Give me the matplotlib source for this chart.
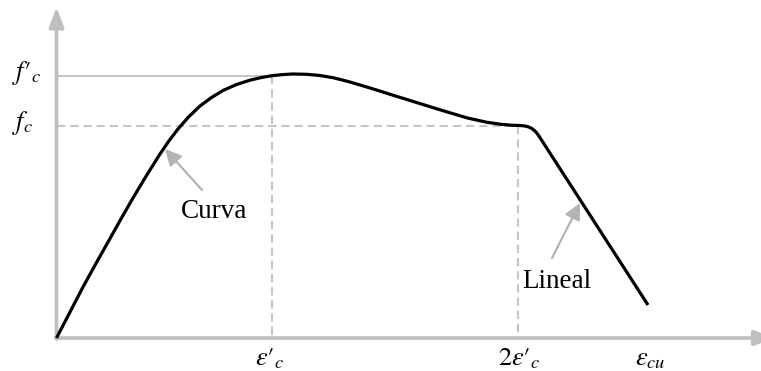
import matplotlib
matplotlib.use("Agg")
import matplotlib.pyplot as plt

plt.rcParams["mathtext.fontset"] = "stix"
plt.rcParams["lines.scale_dashes"] = False

# Schematic stress-strain curve for confined concrete (arbitrary units)
strain = [0, 13, 26.5, 40, 53.5, 65, 76.5, 90, 103.5, 112, 121.5, 132,
          143.5, 155, 166.5, 180, 193.5, 205, 215.5, 226, 236.5, 250,
          263.5, 277, 290.5, 305, 320, 336.5, 360, 386.5, 411, 430, 445,
          455, 463.5, 468, 472, 475.5, 479, 482, 485, 591.5]
stress = [0, 25, 51, 75.5, 99.5, 120, 140, 162.5, 184, 196.5, 209, 221,
          232, 240.5, 247.5, 253.5, 257.8, 260.5, 262.3, 263.4, 264, 263.7,
          262.5, 260.2, 256.8, 252.6, 248, 242.8, 235.5, 227.3, 220, 215.8, 213.6,
          212.8, 212.5, 212.1, 211.1, 209.4, 206.5, 202.6, 198, 33]

# Reference levels on both axes
eps_c = 215.2       # strain at peak stress
eps_2c = 461.2      # end of parabolic branch
eps_cu = 593.5      # ultimate strain
fc_peak = 262.3     # f'c
fc_res = 212.0      # fc

x_labels = [r"$\varepsilon\prime_c$", r"$2\varepsilon\prime_c$", r"$\varepsilon_{cu}$"]
x_label_pos = [eps_c - 1.7, eps_2c + 1.8, eps_cu + 0.5]
y_labels = [r"$f\prime_c$", r"$f_c$"]
y_label_pos = [fc_peak, fc_res]

GRAY_AXIS = "#bfbfbf"
GRAY_GUIDE = "#c6c6c6"
GRAY_ARROW = "#b3b3b3"

fig = plt.figure(figsize=(7.61, 3.71), dpi=100)
ax = fig.add_axes([0, 0, 1, 1])
ax.set_xlim(-56.5, 704.5)
ax.set_ylim(-33, 338)
ax.axis("off")

# Guide lines
ax.plot([0, eps_c], [fc_peak, fc_peak], color=GRAY_GUIDE, lw=1.5, solid_capstyle="butt")
ax.plot([eps_c, eps_c], [fc_peak, 0], color=GRAY_GUIDE, lw=1.5, linestyle=(0, (6, 3.5)))
ax.plot([0, eps_2c], [fc_res, fc_res], color=GRAY_GUIDE, lw=1.5, linestyle=(0, (6, 3.5)))
ax.plot([eps_2c, eps_2c], [fc_res, 0], color=GRAY_GUIDE, lw=1.5, linestyle=(0, (6, 3.5)))

# Axes with arrowheads
axis_style = "-|>,head_length=0.8,head_width=0.3"
ax.annotate("", xy=(0, 331), xytext=(0, -1.2),
            arrowprops=dict(arrowstyle=axis_style, color=GRAY_AXIS, lw=2.6,
                            mutation_scale=15, shrinkA=0, shrinkB=0))
ax.annotate("", xy=(718, 0), xytext=(-1.2, 0), annotation_clip=False,
            arrowprops=dict(arrowstyle=axis_style, color=GRAY_AXIS, lw=2.6,
                            mutation_scale=15, shrinkA=0, shrinkB=0))

# Stress-strain curve
ax.plot(strain, stress, color="black", lw=2.3, solid_joinstyle="round",
        solid_capstyle="butt", zorder=5)

# Axis labels
for lab, xv in zip(x_labels, x_label_pos):
    ax.text(xv, -20, lab, fontsize=19, ha="center", va="center")
for lab, yv in zip(y_labels, y_label_pos):
    ax.text(-44.5, yv + 3, lab, fontsize=19, ha="left", va="center")

# Branch annotations
arrow_kw = dict(arrowstyle="-|>,head_length=0.7,head_width=0.35", color=GRAY_ARROW,
                lw=1.6, mutation_scale=14, shrinkA=0, shrinkB=0)
ax.annotate("", xy=(108.5, 189), xytext=(145.5, 148), arrowprops=arrow_kw)
ax.annotate("", xy=(523.5, 135), xytext=(495.5, 80), arrowprops=arrow_kw)
ax.text(157.5, 127, "Curva", fontsize=19.5, family="Liberation Serif",
        ha="center", va="center")
ax.text(500, 56, "Lineal", fontsize=19.5, family="Liberation Serif",
        ha="center", va="center")

fig.savefig("out.png", dpi=100)
